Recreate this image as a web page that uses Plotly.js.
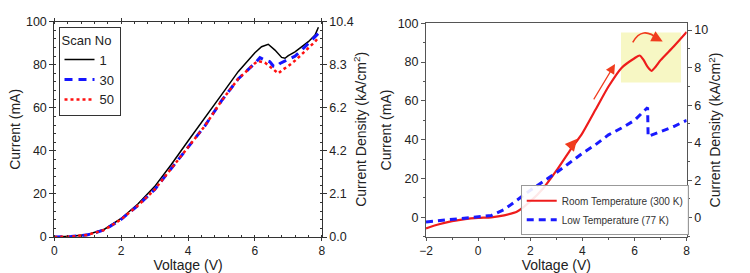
<!DOCTYPE html>
<html>
<head>
<meta charset="utf-8">
<script src="https://cdn.plot.ly/plotly-3.0.1.min.js"></script>
<style>html,body{margin:0;padding:0;background:#fff;}#chart{width:750px;height:273px;}</style>
</head>
<body>
<div id="chart"></div>
<script>
// ---------- Left panel: scans ----------
const scan1_v = [0,0.5,1,1.5,2,2.5,3,3.5,4,4.5,5,5.5,6,6.2,6.4,6.6,6.8,6.9,7,7.2,7.4,7.6,7.8,7.9];
const scan1_i = [0,0.3,1.2,3.6,8.6,15.3,23.4,33.7,44.6,55.1,66,76.8,85.6,88.4,89.5,86.8,83.4,83,84.2,86,88.4,90.7,93.8,97.4];
const scan30_v = [0,0.5,1,1.5,2,2.5,3,3.5,4,4.5,5,5.5,6,6.15,6.3,6.45,6.55,6.65,6.75,6.9,7,7.2,7.4,7.6,7.8,7.9];
const scan30_i = [0,0.2,1.0,3.3,8.2,14.6,22.0,31.9,42.0,51.5,63.2,73.4,80.7,83.3,82.2,81.4,79.4,79.1,80.6,81.7,82.2,84,86.8,90,93,94.6];
const scan50_v = [0,0.5,1,1.5,2,2.5,3,3.5,4,4.5,5,5.5,6,6.1,6.3,6.5,6.7,6.85,7,7.2,7.4,7.6,7.8,7.9];
const scan50_i = [0,0.2,1.0,3.3,8.2,14.6,22.0,31.9,42.0,51.5,63.2,73.4,80.7,81.7,81,78.3,76,77.9,79.4,81.9,84.8,87.6,90.7,92.7];
const scanNames = ["1","30","50"];
const leftDensityTickVals = [0,2.08,4.16,6.24,8.32,10.4];
const leftDensityTickText = ["0.0","2.1","4.2","6.2","8.3","10.4"];

// ---------- Right panel: temperatures ----------
const room_v = [-2,-1.5,-1,-0.5,0,0.5,1,1.5,2,2.5,3,3.5,4,4.5,5,5.5,6,6.2,6.35,6.5,6.65,6.8,7,7.5,8];
const room_i = [-5.7,-3.6,-2,-0.9,-0.3,0,1,3,8.2,15,24,34,43.4,55.4,67.4,77,82,83.4,81,77.5,75.5,77.5,81,88,95.5];
const low_v = [-2,-1,0,0.5,1,1.5,2,2.5,3,3.5,4,4.5,5,5.5,6,6.5,6.52,7,7.5,8];
const low_i = [-2.4,-1.2,0,0.9,4,9,13.9,18.5,23,28,33,37.4,42.5,46,50,56.6,41.7,44.2,46.8,50];
const tempNames = ["Room Temperature (300 K)","Low Temperature (77 K)"];

const FONT = "Liberation Sans, Arial, sans-serif";
const AX = "#333";
const AX2 = "#555";

const traces = [
  {x: scan1_v, y: scan1_i, name: scanNames[0], type: "scatter", mode: "lines",
   line: {color: "#000", width: 1.5}, xaxis: "x", yaxis: "y", legend: "legend"},
  {x: scan30_v, y: scan30_i, name: scanNames[1], type: "scatter", mode: "lines",
   line: {color: "#1515ff", width: 3, dash: "8px,6px"}, xaxis: "x", yaxis: "y", legend: "legend"},
  {x: scan50_v, y: scan50_i, name: scanNames[2], type: "scatter", mode: "lines",
   line: {color: "#ff1010", width: 2.5, dash: "dot"}, xaxis: "x", yaxis: "y", legend: "legend"},
  {x: room_v, y: room_i, name: tempNames[0], type: "scatter", mode: "lines", line: {shape: "spline", smoothing: 0.6, color: "#ee1c1c", width: 2.2},
   xaxis: "x2", yaxis: "y3", legend: "legend2"},
  {x: low_v, y: low_i, name: tempNames[1], type: "scatter", mode: "lines",
   line: {color: "#1a1aff", width: 3, dash: "7px,5px"}, xaxis: "x2", yaxis: "y3", legend: "legend2"},
  // empty traces so the secondary (density) axes are drawn
  {x: [], y: [], type: "scatter", mode: "lines", xaxis: "x", yaxis: "y2", showlegend: false, hoverinfo: "skip"},
  {x: [], y: [], type: "scatter", mode: "lines", xaxis: "x2", yaxis: "y4", showlegend: false, hoverinfo: "skip"}
];

const tickFont = {family: FONT, size: 12.5, color: "#222"};
const xTickFont = {family: FONT, size: 12, color: "#222"};
const titleFont = {family: FONT, size: 14, color: "#222"};

const layout = {
  width: 750, height: 273,
  margin: {l: 0, r: 0, t: 20, b: 36},
  paper_bgcolor: "#fff", plot_bgcolor: "#fff",
  font: {family: FONT},
  showlegend: true,
  xaxis: {domain: [0.0724, 0.429], range: [0, 8], dtick: 2, anchor: "y",
    showline: true, linecolor: AX, linewidth: 1, mirror: "ticks", ticks: "outside", ticklen: 3, tickcolor: AX,
    minor: {dtick: 0.4, ticks: "inside", ticklen: 2, tickcolor: AX},
    showgrid: false, zeroline: false, tickfont: xTickFont,
    title: {text: "Voltage (V)", font: titleFont, standoff: 4}},
  yaxis: {domain: [0, 0.9922], range: [0, 100], dtick: 20, anchor: "x",
    showline: true, linecolor: AX, linewidth: 1, ticks: "outside", ticklen: 4, tickcolor: AX,
    minor: {dtick: 4, ticks: "inside", ticklen: 2, tickcolor: AX},
    showgrid: false, zeroline: false, tickfont: tickFont,
    title: {text: "Current (mA)", font: titleFont, standoff: 2}},
  yaxis2: {overlaying: "y", side: "right", anchor: "x", range: [0, 10.4],
    tickvals: leftDensityTickVals, ticktext: leftDensityTickText,
    showline: true, linecolor: AX, linewidth: 1, ticks: "outside", ticklen: 4, tickcolor: AX,
    minor: {dtick: 0.416, ticks: "inside", ticklen: 2, tickcolor: AX},
    showgrid: false, zeroline: false, tickfont: tickFont,
    title: {text: "Current Density (kA/cm<sup>2</sup>)", font: titleFont, standoff: 3}},
  xaxis2: {domain: [0.568, 0.9156], range: [-2, 8], dtick: 2, anchor: "y3",
    showline: true, linecolor: AX2, linewidth: 1, mirror: true, ticks: "outside", ticklen: 3, tickcolor: AX2,
    minor: {dtick: 1, ticks: "outside", ticklen: 2, tickcolor: AX2},
    showgrid: false, zeroline: false, tickfont: xTickFont,
    title: {text: "Voltage (V)", font: titleFont, standoff: 4}},
  yaxis3: {domain: [0.0014, 0.9848], range: [-10, 100], dtick: 20, tick0: 0, anchor: "x2",
    showline: true, linecolor: AX2, linewidth: 1, ticks: "outside", ticklen: 4, tickcolor: AX2,
    minor: {dtick: 10, ticks: "outside", ticklen: 2, tickcolor: AX2},
    showgrid: false, zeroline: false, tickfont: tickFont,
    title: {text: "Current (mA)", font: titleFont, standoff: 2}},
  yaxis4: {overlaying: "y3", side: "right", anchor: "x2", range: [-1.01, 10.36], dtick: 2, tick0: 0,
    showline: true, linecolor: AX2, linewidth: 1, ticks: "outside", ticklen: 4, tickcolor: AX2,
    minor: {dtick: 1, ticks: "outside", ticklen: 2, tickcolor: AX2},
    showgrid: false, zeroline: false, tickfont: tickFont,
    title: {text: "Current Density (kA/cm<sup>2</sup>)", font: titleFont, standoff: 3}},
  legend: {x: 0.078, y: 0.969, xanchor: "left", yanchor: "top",
    bgcolor: "#fff", bordercolor: AX, borderwidth: 1,
    font: {family: FONT, size: 13, color: "#222"}, itemwidth: 30, tracegroupgap: 0,
    title: {text: "Scan No", font: {family: FONT, size: 13, color: "#222"}}},
  legend2: {x: 0.6943, y: 0.008, xanchor: "left", yanchor: "bottom",
    bgcolor: "rgba(255,255,255,0.9)", bordercolor: "#999", borderwidth: 1,
    font: {family: FONT, size: 10, color: "#333"}, itemwidth: 30, tracegroupgap: 0},
  shapes: [
    {type: "rect", xref: "x2", yref: "y3", x0: 5.48, x1: 7.78, y0: 69.5, y1: 95.2,
     fillcolor: "#f7f7c4", line: {width: 0}, layer: "below"},
    {type: "path", xref: "x2", yref: "y3", path: "M 5.93 90.2 Q 6.3 99 6.9 91.8",
     line: {color: "#f03c1e", width: 1.6}}
  ],
  annotations: [
    {xref: "x2", yref: "y3", axref: "x2", ayref: "y3", x: 3.8, y: 40.5, ax: 3.45, ay: 35,
     text: "", showarrow: true, arrowhead: 2, arrowsize: 1.6, arrowwidth: 1.5, arrowcolor: "#f03c1e"},
    {xref: "x2", yref: "y3", axref: "x2", ayref: "y3", x: 5.25, y: 79, ax: 4.4, ay: 60,
     text: "", showarrow: true, arrowhead: 2, arrowsize: 1.6, arrowwidth: 1.2, arrowcolor: "#f03c1e"},
    {xref: "x2", yref: "y3", axref: "x2", ayref: "y3", x: 7.08, y: 90.6, ax: 6.8, ay: 92.6,
     text: "", showarrow: true, arrowhead: 2, arrowsize: 1.4, arrowwidth: 1.6, arrowcolor: "#f03c1e"}
  ]
};

Plotly.newPlot("chart", traces, layout, {displayModeBar: false, staticPlot: true});
</script>
</body>
</html>
